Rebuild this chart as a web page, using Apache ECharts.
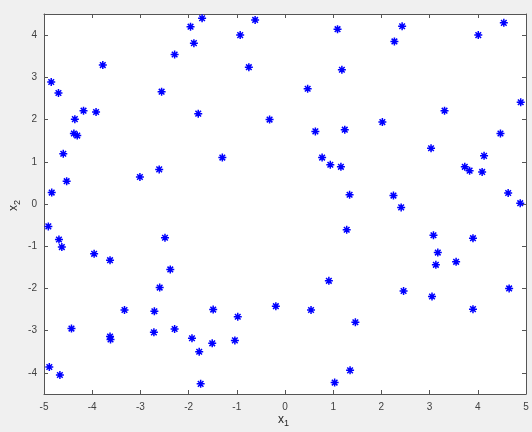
<!DOCTYPE html>
<html><head><meta charset="utf-8">
<script src="https://cdn.jsdelivr.net/npm/echarts@6/dist/echarts.min.js"></script>
<style>html,body{margin:0;padding:0;background:#f0f0f0}#c{width:532px;height:432px}</style>
</head><body><div id="c"></div>
<script>
var xTicks = [-5,-4,-3,-2,-1,0,1,2,3,4,5];
var yTicks = [-4,-3,-2,-1,0,1,2,3,4];
var x1 = [-4.85,-4.70,-3.78,-4.18,-3.92,-4.36,-4.38,-4.31,-4.60,-4.53,-4.84,-3.01,-2.61,-2.56,-2.29,
 -1.72,-1.96,-1.89,-0.93,-0.62,-0.75,-1.80,-1.30,-0.32,0.47,1.09,1.18,0.63,1.24,0.77,0.94,1.16,1.34,
 2.43,2.27,4.01,4.54,4.89,3.31,2.02,4.47,3.03,4.13,3.73,3.83,4.09,2.25,2.41,4.63,4.88,
 -4.91,-4.69,-4.63,-3.96,-3.63,-2.49,-2.38,-2.60,-3.33,-2.71,-4.43,-3.63,-3.62,-2.72,-2.29,-4.89,-4.67,
 -1.49,-0.98,-0.19,0.54,0.91,1.28,-1.93,-1.51,-1.78,-1.04,-1.75,1.03,1.35,
 3.08,3.90,3.17,3.13,3.55,2.46,3.05,4.65,3.90,1.46];
var x2 = [2.89,2.63,3.29,2.21,2.18,2.01,1.67,1.62,1.19,0.54,0.27,0.64,0.82,2.66,3.54,
 4.40,4.20,3.81,4.00,4.36,3.24,2.14,1.10,2.00,2.73,4.14,3.18,1.72,1.76,1.10,0.93,0.88,0.22,
 4.21,3.85,4.00,4.29,2.41,2.21,1.94,1.67,1.32,1.14,0.88,0.79,0.76,0.20,-0.08,0.26,0.02,
 -0.53,-0.84,-1.02,-1.18,-1.33,-0.80,-1.55,-1.98,-2.51,-2.54,-2.95,-3.14,-3.21,-3.04,-2.96,-3.86,-4.05,
 -2.50,-2.67,-2.42,-2.51,-1.82,-0.61,-3.18,-3.30,-3.50,-3.23,-4.26,-4.23,-3.94,
 -0.74,-0.81,-1.15,-1.44,-1.37,-2.06,-2.19,-2.00,-2.49,-2.80];

var pts = x1.map(function(v,i){return [v,x2[i]];});
var chart = echarts.init(document.getElementById('c'), null, {renderer:'canvas'});
var axCol = '#555';
var lblCol = '#404040';
var ff = 'Liberation Sans, Arial, sans-serif';
function xa(pos, show){
  return {type:'value', min:-5, max:5, interval:1, position:pos,
    axisLine:{show:true, onZero:false, lineStyle:{color:axCol,width:1}},
    axisTick:{show:true, inside:true, length:4, lineStyle:{color:axCol}},
    axisLabel:{show:show, color:lblCol, fontSize:10, fontFamily:ff, margin:8},
    splitLine:{show:false}};
}
function ya(pos, show){
  return {type:'value', min:-4.5, max:4.5, position:pos,
    axisLine:{show:true, onZero:false, lineStyle:{color:axCol,width:1}},
    axisTick:{show:true, inside:true, length:4, lineStyle:{color:axCol}, customValues:yTicks},
    axisLabel:{show:show, color:lblCol, fontSize:10, fontFamily:ff, margin:7, customValues:yTicks},
    splitLine:{show:false}};
}
var xb = xa('bottom', true), xt = xa('top', false);
var yl = ya('left', true), yr = ya('right', false);
chart.setOption({
  backgroundColor:'#f0f0f0',
  animation:false,
  grid:{left:44, right:6, top:14, bottom:38, show:true, backgroundColor:'#ffffff', borderWidth:0},
  xAxis:[xb, xt],
  yAxis:[yl, yr],
  graphic:[
    {type:'text', left:278, top:414, style:{text:'{a|x}{b|1}', rich:{a:{fontSize:12,fontFamily:ff,fill:'#262626'}, b:{fontSize:9,fontFamily:ff,fill:'#262626',padding:[8,0,0,0]}}}},
    {type:'text', x:5, y:211, rotation:Math.PI/2, style:{text:'{a|x}{b|2}', rich:{a:{fontSize:12,fontFamily:ff,fill:'#262626'}, b:{fontSize:9,fontFamily:ff,fill:'#262626',padding:[8,0,0,0]}}}}
  ],
  series:[{
    type:'scatter', xAxisIndex:0, yAxisIndex:0, data:pts,
    symbol:'path://M0,-10L0,10M-10,0L10,0M-7,-7L7,7M-7,7L7,-7',
    symbolSize:8,
    itemStyle:{color:'#0000ff', borderColor:'#0000ff', borderWidth:1.5, opacity:1}
  }]
});
</script></body></html>
